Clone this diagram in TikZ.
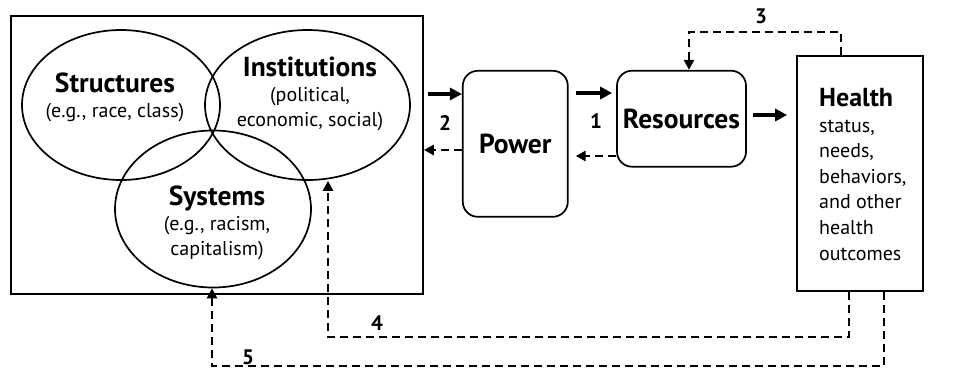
\documentclass[tikz,border=0pt]{standalone}
\usepackage{fontspec}
\setmainfont{PT Sans}
\usetikzlibrary{arrows.meta,shapes.geometric,calc}
\begin{document}
\begin{tikzpicture}[x=1pt,y=-1pt,
 box/.style={draw, line width=1.7pt, inner sep=0},
 rbox/.style={box, rounded corners=15pt},
 ell/.style={draw, ellipse, line width=1.7pt, inner sep=0},
 sub/.style={font=\fontsize{20}{25}\selectfont, align=center, inner sep=0},
 solidarr/.style={line width=4pt, -{Triangle[length=12pt,width=12pt]}},
 dsh/.style={line width=2.8pt, dash pattern=on 8pt off 5pt, -{Triangle[length=10pt,width=10pt]}},
 num/.style={font=\bfseries\fontsize{21}{21}\selectfont, inner sep=0}]
\path[use as bounding box] (0,0) rectangle (958,373);
% outer box and Venn
\node[box, minimum width=412pt, minimum height=278pt] (outer) at (217,155) {};
\node[ell, minimum width=198pt, minimum height=150pt] (struct) at (121,105) {};
\node[ell, minimum width=205pt, minimum height=150pt] (inst) at (307.5,105) {};
\node[ell, minimum width=196pt, minimum height=157pt] (sys) at (213,209) {};
\node[sub] (structtxt) at (115,97) {{\bfseries\fontsize{27.5}{25}\selectfont Structures}\\(e.g., race, class)};
\node[sub] (insttxt) at (310,94) {{\bfseries\fontsize{27.5}{25}\selectfont Institutions}\\(political,\\economic, social)};
\node[sub] (systxt) at (217,223) {{\bfseries\fontsize{27.5}{25}\selectfont Systems}\\(e.g., racism,\\capitalism)};
% boxes
\node[rbox, minimum width=105pt, minimum height=146pt, font=\bfseries\fontsize{27.5}{25}\selectfont] (power) at (515.3,143.8) {Power};
\node[rbox, minimum width=129pt, minimum height=96pt, font=\bfseries\fontsize{27.5}{25}\selectfont] (res) at (681.5,118.7) {Resources};
\node[box, minimum width=126pt, minimum height=235pt] (health) at (860,173.5) {};
\node[anchor=north west, align=left, inner sep=0, font=\fontsize{20}{25.6}\selectfont] (htxt) at (819,88)
 {{\bfseries\fontsize{26}{27}\selectfont Health}\\status,\\needs,\\behaviors,\\and other\\health\\outcomes};
% connectors
\draw[solidarr] ($(outer.east|-0,94)+(4,0)$) -- (power.west|-0,94);
\draw[dsh] (power.west|-0,150) -- (outer.east|-0,150);
\draw[solidarr] ($(power.east|-0,93)+(7,0)$) -- ($(res.west|-0,93)+(-4,0)$);
\draw[dsh] (res.west|-0,156) -- ($(power.east|-0,156)+(7,0)$);
\draw[solidarr] ($(res.east|-0,115)+(6,0)$) -- ($(health.west|-0,115)+(-9,0)$);
\draw[dsh] (health.north -| 841,0) -- (841,32) -- (689,32) -- (res.north -| 689,0);
\draw[dsh] (health.south -| 849,0) -- (849,337) -- (328,337) -- (inst.south -| 328,0);
\draw[dsh] (health.south -| 884,0) -- (884,366) -- (212,366) -- (sys.south -| 212,0);
% numbers
\node[num] (n1) at (596,121) {1};
\node[num] (n2) at (445,123) {2};
\node[num] (n3) at (761,16) {3};
\node[num] (n4) at (377,323) {4};
\node[num] (n5) at (248,357) {5};
\end{tikzpicture}
\end{document}
